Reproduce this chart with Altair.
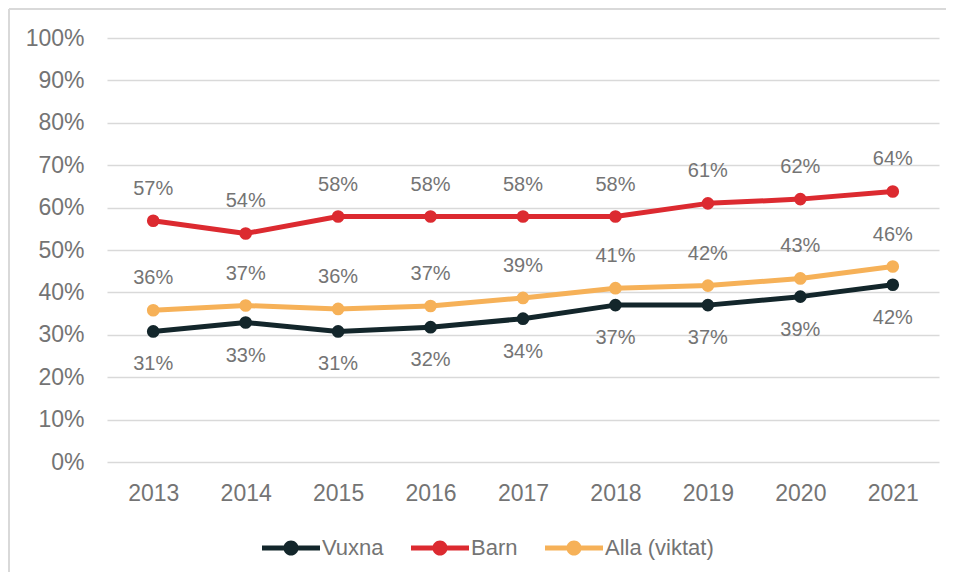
import altair as alt
import pandas as pd

years = ["2013", "2014", "2015", "2016", "2017", "2018", "2019", "2020", "2021"]
vuxna = [30.8, 32.9, 30.8, 31.8, 33.8, 37.0, 37.0, 39.0, 41.8]
barn = [56.9, 53.9, 57.9, 57.9, 57.9, 57.9, 61.0, 62.0, 63.8]
alla = [35.8, 36.9, 36.1, 36.8, 38.7, 41.0, 41.6, 43.3, 46.1]
series = ["Vuxna", "Barn", "Alla (viktat)"]
colors = ["#13262b", "#dc2a30", "#f6b158"]
y_ticks = [0, 10, 20, 30, 40, 50, 60, 70, 80, 90, 100]

rows = []
for name, vals in zip(series, [vuxna, barn, alla]):
    for yr, v in zip(years, vals):
        rows.append({"year": yr, "series": name, "value": v})
df = pd.DataFrame(rows)

TXT = "#747474"
FONT = "Liberation Sans"

legend_symbol = (
    "M-1,-0.09 L1,-0.09 L1,0.09 L-1,0.09 Z "
    "M0.26,0 A0.26,0.26 0 1,1 -0.26,0 A0.26,0.26 0 1,1 0.26,0 Z"
)

x = alt.X("year:O", sort=years, title=None,
          scale=alt.Scale(paddingOuter=0.5, paddingInner=0),
          axis=alt.Axis(labelAngle=0, domain=False, ticks=False, grid=False,
                        labelFontSize=23, labelColor=TXT, labelFont=FONT,
                        labelPadding=20))
y = alt.Y("value:Q", title=None,
          scale=alt.Scale(domain=[0, 100], nice=False),
          axis=alt.Axis(values=y_ticks, labelExpr="datum.value + '%'",
                        domain=False, ticks=False, grid=True,
                        gridColor="#d9d9d9", gridWidth=1.5,
                        labelFontSize=23, labelColor=TXT, labelFont=FONT,
                        labelPadding=23))
color = alt.Color("series:N", sort=series,
                  scale=alt.Scale(domain=series, range=colors),
                  legend=alt.Legend(title=None, orient="none", direction="horizontal",
                                    legendX=155, legendY=481,
                                    symbolType=legend_symbol, symbolSize=3364,
                                    symbolStrokeWidth=0, symbolOpacity=1,
                                    labelFontSize=22, labelColor=TXT, labelFont=FONT,
                                    labelOffset=2, columnPadding=27))

base = alt.Chart(df)

lines = base.mark_line(strokeWidth=5, strokeCap="round", strokeJoin="round").encode(
    x=x, y=y, color=color)
points = base.mark_point(filled=True, size=160, opacity=1).encode(
    x=x, y=y, color=alt.Color("series:N", sort=series,
                              scale=alt.Scale(domain=series, range=colors), legend=None))

label_expr = "format(datum.value, '.0f') + '%'"
above = base.transform_filter("datum.series != 'Vuxna'").transform_calculate(
    lab=label_expr).mark_text(dy=-32, fontSize=20, color=TXT, font=FONT).encode(
    x=x, y=y, text="lab:N")
below = base.transform_filter("datum.series == 'Vuxna'").transform_calculate(
    lab=label_expr).mark_text(dy=33, fontSize=20, color=TXT, font=FONT).encode(
    x=x, y=y, text="lab:N")

border_top = alt.Chart(pd.DataFrame({"a": [0]})).mark_rule(
    color="#d9d9d9", strokeWidth=2).encode(
    x=alt.value(-98), x2=alt.value(839), y=alt.value(-29))
border_left = alt.Chart(pd.DataFrame({"a": [0]})).mark_rule(
    color="#d9d9d9", strokeWidth=2).encode(
    x=alt.value(-98), y=alt.value(-29), y2=alt.value(534))

chart = alt.layer(border_top, border_left, lines, points, above, below).properties(
    width=832, height=424,
    padding={"left": 99, "top": 30, "right": 7, "bottom": 110},
    autosize=alt.AutoSizeParams(type="none"),
).configure_view(stroke=None)

chart.save("out.html", embed_options={"renderer": "svg", "actions": False})
